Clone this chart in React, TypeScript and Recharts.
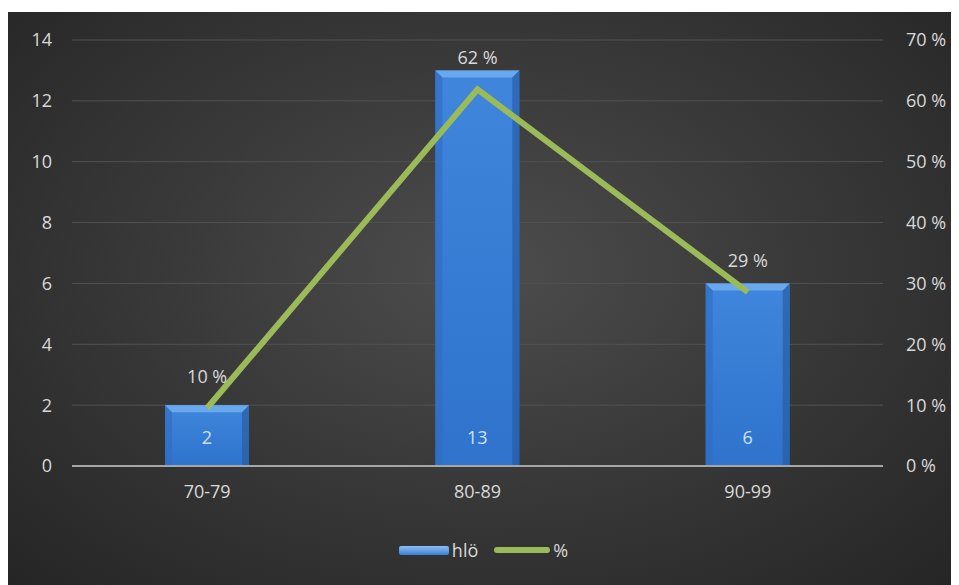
import React from 'react';
import { ComposedChart, Bar, Line, XAxis, YAxis, CartesianGrid, Legend, LabelList } from 'recharts';

const categories = ['70-79', '80-89', '90-99'];
const counts = [2, 13, 6];
const shares = [0.0952, 0.619, 0.2857];
const leftTicks = [0, 2, 4, 6, 8, 10, 12, 14];
const rightTicks = [0, 0.1, 0.2, 0.3, 0.4, 0.5, 0.6, 0.7];

const data = categories.map((c, i) => ({ name: c, hlo: counts[i], pct: shares[i] }));

const FONT = '"Open Sans", sans-serif';
const TEXT = '#d9d9d9';
const FS = 18;
const pctFmt = (v: number) => `${Math.round(v * 100)} %`;

const BevelBar = (props: any) => {
  const { x, y, width, height } = props;
  const b = 7;
  return (
    <g>
      <rect x={x} y={y} width={width} height={height} fill="url(#barFill)" />
      <polygon points={`${x},${y} ${x + width},${y} ${x + width - b},${y + b} ${x + b},${y + b}`} fill="#6aa8ee" />
      <polygon points={`${x},${y} ${x + b},${y + b} ${x + b},${y + height} ${x},${y + height}`} fill="#2f6cc2" opacity={0.6} />
      <polygon points={`${x + width},${y} ${x + width - b},${y + b} ${x + width - b},${y + height} ${x + width},${y + height}`} fill="#24589f" opacity={0.6} />
    </g>
  );
};

const BarLabel = (props: any) => {
  const { x, y, width, height, value } = props;
  return (
    <text x={x + width / 2} y={y + height - 29} fill="#cfe0f5" fontSize={FS} fontFamily={FONT} textAnchor="middle" dominantBaseline="central">
      {value}
    </text>
  );
};

const PctLabel = (props: any) => {
  const { x, y, value } = props;
  return (
    <text x={x} y={y - 32} fill={TEXT} fontSize={FS} fontFamily={FONT} textAnchor="middle" dominantBaseline="central">
      {pctFmt(value)}
    </text>
  );
};

const LegendBox = () => (
  <div style={{ height: 89, display: 'flex', justifyContent: 'center', alignItems: 'flex-start', paddingTop: 43, boxSizing: 'border-box', fontFamily: FONT, fontSize: FS, color: TEXT }}>
    <span style={{ display: 'flex', alignItems: 'center', height: 22 }}>
      <span style={{ display: 'inline-block', width: 50, height: 9, background: 'linear-gradient(#8cc0f5, #3a7fd6)', borderRadius: 2, marginRight: 3 }} />
      hlö
      <span style={{ display: 'inline-block', width: 56, height: 6, background: '#9bbb59', borderRadius: 3, marginLeft: 16, marginRight: 3 }} />
      %
    </span>
  </div>
);

export default function App() {
  return (
    <div style={{ marginTop: 4, width: 951, height: 573, background: 'radial-gradient(ellipse at 50% 45%, #4d4d4d 0%, #3a3a3a 45%, #252525 100%)' }}>
      <ComposedChart width={951} height={573} data={data} margin={{ top: 28, right: 0, left: 0, bottom: 0 }}>
        <defs>
          <linearGradient id="barFill" x1="0" y1="0" x2="0" y2="1">
            <stop offset="0%" stopColor="#3f86dc" />
            <stop offset="100%" stopColor="#2f73cc" />
          </linearGradient>
        </defs>
        <CartesianGrid yAxisId="left" vertical={false} stroke="#525252" strokeWidth={1} />
        <XAxis
          dataKey="name"
          height={30}
          tickLine={false}
          axisLine={{ stroke: '#a6a6a6', strokeWidth: 2 }}
          tick={{ fill: TEXT, fontSize: FS, fontFamily: FONT }}
          tickMargin={13}
        />
        <YAxis
          yAxisId="left"
          width={64}
          domain={[0, 14]}
          ticks={leftTicks}
          axisLine={false}
          tickLine={false}
          tickMargin={14}
          tick={{ fill: TEXT, fontSize: FS, fontFamily: FONT }}
        />
        <YAxis
          yAxisId="right"
          orientation="right"
          width={76}
          domain={[0, 0.7]}
          ticks={rightTicks}
          tickFormatter={pctFmt}
          axisLine={false}
          tickLine={false}
          tickMargin={17}
          tick={{ fill: TEXT, fontSize: FS, fontFamily: FONT, textAnchor: 'start' }}
        />
        <Legend verticalAlign="bottom" content={<LegendBox />} />
        <Bar yAxisId="left" dataKey="hlo" name="hlö" barSize={84} shape={<BevelBar />} isAnimationActive={false}>
          <LabelList dataKey="hlo" content={<BarLabel />} />
        </Bar>
        <Line yAxisId="right" dataKey="pct" name="%" stroke="#9bbb59" strokeWidth={6} dot={false} type="linear" isAnimationActive={false}>
          <LabelList dataKey="pct" content={<PctLabel />} />
        </Line>
      </ComposedChart>
    </div>
  );
}
